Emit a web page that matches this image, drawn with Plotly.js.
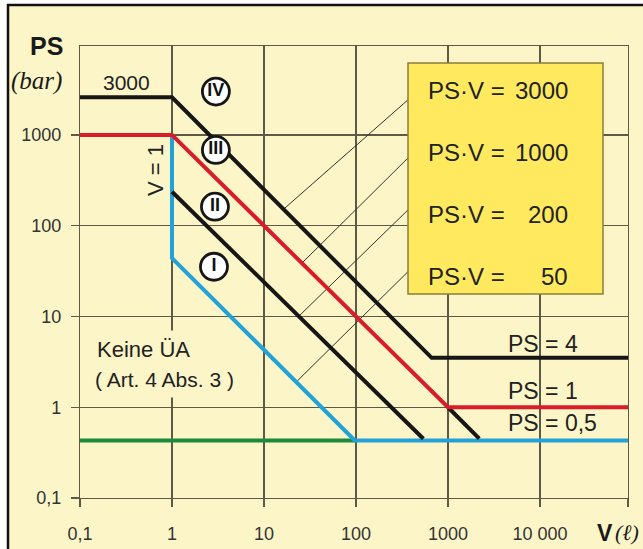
<!DOCTYPE html>
<html>
<head>
<meta charset="utf-8">
<script src="https://cdn.plot.ly/plotly-3.0.1.min.js"></script>
<style>html,body{margin:0;padding:0;background:#fff;}#chart{width:643px;height:549px;}</style>
</head>
<body>
<div id="chart"></div>
<script>
// ---- data ----
const vMax = 90600;
const catIV_V = [0.1, 1, 665, vMax];
const catIV_PS = [2600, 2600, 3.5, 3.5];
const red_V = [0.1, 1, 1000, vMax];
const red_PS = [1000, 1000, 1, 1];
const blackCont_V = [1000, 2190];
const blackCont_PS = [1, 0.45];
const catII_V = [1, 540];
const catII_PS = [237, 0.45];
const blue_V = [1, 1, 97, vMax];
const blue_PS = [1000, 44, 0.43, 0.43];
const green_V = [0.1, 97];
const green_PS = [0.43, 0.43];
const leaderV = [[367, 16.9], [367, 25.7], [367, 24.6], [367, 22.9]];
const leaderPS = [[2432, 156.6], [557, 38.5], [149, 10.35], [31.1, 1.94]];
const circleV = [3.0, 3.0, 2.93, 2.86];
const circlePS = [3006, 684, 162, 35.3];
const circleLabels = ['IV', 'III', 'II', 'I'];
const boxLabels = ['3000', '1000', '200', '50'];
const xTickVals = [0.1, 1, 10, 100, 1000, 10000, vMax];
const xTickText = ['0,1', '1', '10', '100', '1000', '10 000', ''];
const yTickVals = [0.1, 1, 10, 100, 1000];
const yTickText = ['0,1', '1', '10', '100', '1000'];

// ---- layout helpers ----
const L = 80, T = 46, W = 548, H = 452;
const ax = px => (px - L) / W;
const ay = py => (T + H - py) / H;
const CREAM = '#FCF5C8';
const GRID = '#5e5944';
const FONT = 'Liberation Sans, Arial, sans-serif';

const traces = [];
function line(x, y, color, width) {
  traces.push({x: x, y: y, mode: 'lines', line: {color: color, width: width},
    hoverinfo: 'skip', showlegend: false});
}
for (let i = 0; i < leaderV.length; i++) line(leaderV[i], leaderPS[i], '#34332a', 1);
line(green_V, green_PS, '#1c8a3c', 4);
line(blue_V, blue_PS, '#22a2d8', 4);
line(blackCont_V, blackCont_PS, '#161616', 4);
line(catII_V, catII_PS, '#161616', 4);
line(catIV_V, catIV_PS, '#161616', 4);
line(red_V, red_PS, '#d81c2a', 4);
traces.push({x: circleV, y: circlePS, mode: 'markers+text', text: circleLabels.map(s => '<b>' + s + '</b>'),
  textposition: 'middle center',
  textfont: {family: FONT, size: 18, color: '#111'},
  marker: {size: 27, color: '#ffffff', line: {color: '#161616', width: 2.8}},
  hoverinfo: 'skip', showlegend: false});

const ann = [];
function A(text, px, py, size, opts) {
  ann.push(Object.assign({text: text, xref: 'paper', yref: 'paper', x: ax(px), y: ay(py),
    xanchor: 'center', yanchor: 'middle', showarrow: false,
    font: {family: FONT, size: size, color: '#222'}}, opts || {}));
}
A('<b>PS</b>', 46, 46, 25, {font: {family: FONT, size: 25, color: '#1a1a1a'}});
A('<i>(bar)</i>', 36, 81, 25, {font: {family: 'Liberation Serif, serif', size: 25, color: '#1a1a1a'}});
A('3000', 152, 83, 21, {xanchor: 'right'});
A('V = 1', 155, 170, 22, {textangle: -90});
A('Keine ÜA', 90, 349, 22, {xanchor: 'left', bgcolor: CREAM, borderpad: 6});
A('( Art. 4 Abs. 3 )', 88, 379, 21, {xanchor: 'left', bgcolor: CREAM, borderpad: 6});
const boxY = [90, 152, 214, 276];
for (let i = 0; i < boxLabels.length; i++) {
  A('PS·V =', 426, boxY[i], 24, {xanchor: 'left'});
  A(boxLabels[i], 570, boxY[i], 24, {xanchor: 'right'});
}
A('PS = 4', 506, 344, 23, {xanchor: 'left'});
A('PS = 1', 506, 391, 23, {xanchor: 'left'});
A('PS = 0,5', 506, 423, 23, {xanchor: 'left'});
A('<b>V</b>', 595, 533, 23, {xanchor: 'left', font: {family: FONT, size: 23, color: '#1a1a1a'}});
A('<i>(ℓ)</i>', 613, 532, 22, {xanchor: 'left', font: {family: 'Liberation Serif, serif', size: 22, color: '#1a1a1a'}});

const shapes = [
  {type: 'rect', xref: 'paper', yref: 'paper', x0: ax(8), x1: ax(700), y0: ay(600), y1: ay(5),
   fillcolor: CREAM, line: {color: '#111', width: 2.5}, layer: 'below'},
  {type: 'rect', xref: 'paper', yref: 'paper', x0: ax(408), x1: ax(603), y0: ay(294), y1: ay(63),
   fillcolor: '#FFE95E', line: {color: '#8a7d3c', width: 1.5}, layer: 'above'}
];

const axisCommon = {
  type: 'log', showgrid: true, gridcolor: GRID, gridwidth: 1.2,
  showline: true, linecolor: GRID, linewidth: 1.2, mirror: true,
  ticks: 'outside', ticklen: 8, tickcolor: GRID, tickwidth: 1.2,
  tickmode: 'array', zeroline: false, fixedrange: true,
  tickfont: {family: FONT, size: 18, color: '#333'}
};
const layout = {
  width: 643, height: 549,
  margin: {l: L, r: 643 - L - W, t: T, b: 549 - T - H, pad: 0},
  paper_bgcolor: '#ffffff', plot_bgcolor: CREAM,
  showlegend: false,
  xaxis: Object.assign({}, axisCommon, {range: [-1, 4.957], tickvals: xTickVals, ticktext: xTickText, ticklabelstandoff: 11}),
  yaxis: Object.assign({}, axisCommon, {range: [-1, 3.98], tickvals: yTickVals, ticktext: yTickText, ticklabelstandoff: 6}),
  shapes: shapes,
  annotations: ann
};
Plotly.newPlot('chart', traces, layout, {displayModeBar: false, staticPlot: true});
</script>
</body>
</html>
